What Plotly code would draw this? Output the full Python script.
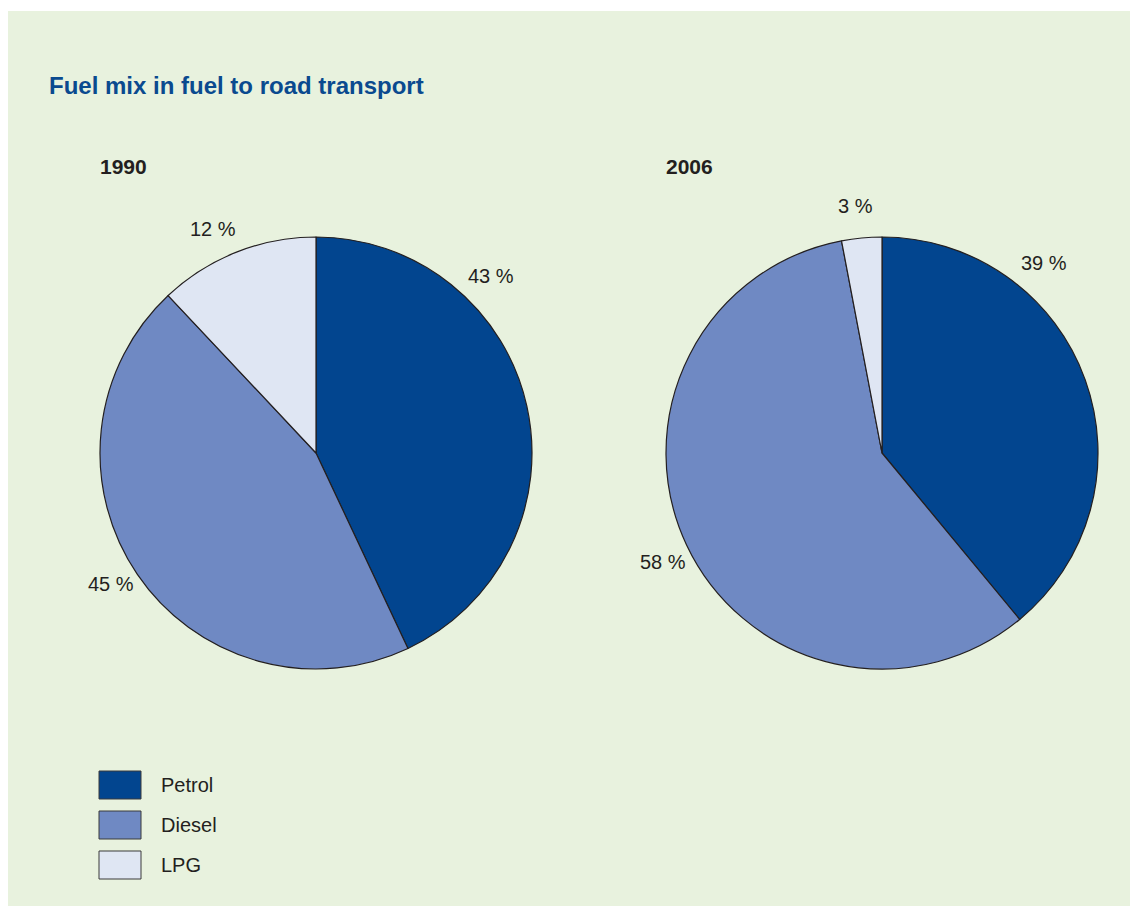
import plotly.graph_objects as go

# Fuel mix shares (%) for road transport
fuels = ["Petrol", "Diesel", "LPG"]
share_1990 = [43, 45, 12]
share_2006 = [39, 58, 3]
years = ["1990", "2006"]

colors = ["#02458f", "#6f89c3", "#dfe6f3"]
outline = "#231f20"
panel = "#e8f2de"
text_font = "Liberation Sans Narrow, Arial Narrow, Arial, sans-serif"

W, H = 1130, 906


def px(x):
    return x / W


def py(y):
    return 1 - y / H


fig = go.Figure()

# pie boxes in pixels (left, top, size)
pie_boxes = [(100, 237, 432), (666, 237, 432)]
for vals, (left, top, size) in zip([share_1990, share_2006], pie_boxes):
    fig.add_trace(go.Pie(
        labels=fuels,
        values=vals,
        sort=False,
        direction="clockwise",
        rotation=0,
        marker=dict(colors=colors, line=dict(color=outline, width=1.2)),
        textinfo="none",
        hoverinfo="label+percent",
        showlegend=False,
        domain=dict(x=[px(left), px(left + size)], y=[py(top + size), py(top)]),
    ))

shapes = [
    # green panel
    dict(type="rect", xref="paper", yref="paper", x0=px(8), x1=1.0, y0=0.0, y1=py(11),
         fillcolor=panel, line=dict(width=0), layer="below"),
]
annotations = [
    dict(text="<b>Fuel mix in fuel to road transport</b>", x=px(47), y=py(85),
         xanchor="left", yanchor="middle", showarrow=False,
         font=dict(family=text_font, size=24, color="#0a4a8f")),
]

# year headings
for yr, xl in zip(years, [98, 664]):
    annotations.append(dict(text=f"<b>{yr}</b>", x=px(xl), y=py(167), xanchor="left",
                            yanchor="middle", showarrow=False,
                            font=dict(family=text_font, size=21, color=outline)))

# percentage labels placed around each pie
label_pos = [
    [(491, 276), (111, 584), (213, 229)],
    [(1044, 263), (663, 562), (855, 206)],
]
for vals, positions in zip([share_1990, share_2006], label_pos):
    for v, (lx, ly) in zip(vals, positions):
        annotations.append(dict(text=f"{v} %", x=px(lx), y=py(ly), xanchor="center",
                                yanchor="middle", showarrow=False,
                                font=dict(family=text_font, size=20, color=outline)))

# legend swatches
for i, (name, col) in enumerate(zip(fuels, colors)):
    top = 771 + i * 40
    shapes.append(dict(type="rect", xref="paper", yref="paper", x0=px(99), x1=px(141),
                       y0=py(top + 28), y1=py(top), fillcolor=col,
                       line=dict(color="#3a3a3a", width=1)))
    annotations.append(dict(text=name, x=px(159), y=py(top + 14), xanchor="left",
                            yanchor="middle", showarrow=False,
                            font=dict(family=text_font, size=20, color=outline)))

fig.update_layout(
    width=W, height=H,
    margin=dict(l=0, r=0, t=0, b=0),
    paper_bgcolor="white",
    plot_bgcolor="white",
    shapes=shapes,
    annotations=annotations,
)

fig.write_html("out.html")
